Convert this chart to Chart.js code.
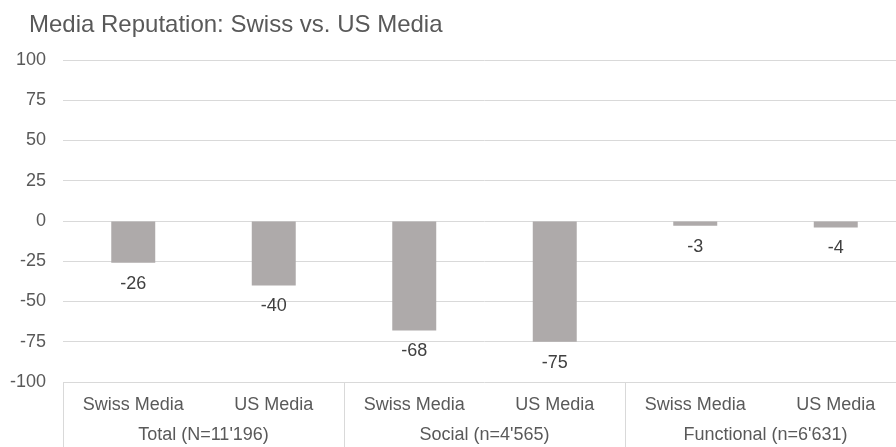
<!DOCTYPE html>
<html>
<head>
<meta charset="utf-8">
<script src="https://cdn.jsdelivr.net/npm/chart.js@4/dist/chart.umd.min.js"></script>
<style>
    html, body { margin: 0; padding: 0; overflow: hidden; background: #fff; }
    #wrap { width: 906px; height: 447px; position: relative; }
</style>
</head>
<body>
<div id="wrap"><canvas id="reputationChart"></canvas></div>
<script>
    const chartTitle = 'Media Reputation: Swiss vs. US Media';
    const categories = ['Swiss Media', 'US Media', 'Swiss Media', 'US Media', 'Swiss Media', 'US Media'];
    const groups = ["Total (N=11'196)", "Social (n=4'565)", "Functional (n=6'631)"];
    const reputation = [-26, -40, -68, -75, -3, -4];
    const yMin = -100;
    const yMax = 100;
    const yStep = 25;

    const FONT = '"Liberation Sans", Arial, sans-serif';
    const TEXT = '#595959';
    const GRID = '#D9D9D9';

    // Title, value labels and the grouped category row
    const extras = {
        id: 'extras',
        afterDraw(chart) {
            const ctx = chart.ctx;
            const x = chart.scales.x;
            const area = chart.chartArea;

            ctx.save();
            ctx.font = '24px ' + FONT;
            ctx.fillStyle = TEXT;
            ctx.textAlign = 'left';
            ctx.textBaseline = 'alphabetic';
            ctx.fillText(chartTitle, 29, 32);

            // value labels under each bar
            ctx.font = '18px ' + FONT;
            ctx.fillStyle = '#404040';
            ctx.textAlign = 'center';
            ctx.textBaseline = 'middle';
            const meta = chart.getDatasetMeta(0);
            meta.data.forEach((bar, i) => {
                ctx.fillText(String(reputation[i]), bar.x, bar.y + 21);
            });

            // group separators + group labels
            const step = x.getPixelForValue(1) - x.getPixelForValue(0);
            ctx.strokeStyle = GRID;
            ctx.lineWidth = 1;
            ctx.fillStyle = TEXT;
            groups.forEach((g, gi) => {
                const left = x.getPixelForValue(gi * 2) - step / 2;
                const right = x.getPixelForValue(gi * 2 + 1) + step / 2;
                [left, right].forEach(px => {
                    const sx = Math.round(px) + 0.5;
                    ctx.beginPath();
                    ctx.moveTo(sx, area.bottom);
                    ctx.lineTo(sx, chart.height);
                    ctx.stroke();
                });
                ctx.fillText(g, (left + right) / 2, 435);
            });
            ctx.restore();
        }
    };

    new Chart(document.getElementById('reputationChart'), {
        type: 'bar',
        data: {
            labels: categories,
            datasets: [{
                data: reputation,
                backgroundColor: '#AEAAAA',
                borderWidth: 0,
                barPercentage: 0.313,
                categoryPercentage: 1
            }]
        },
        options: {
            responsive: true,
            maintainAspectRatio: false,
            animation: false,
            layout: { padding: { top: 60, left: 0, right: 0, bottom: 0 } },
            scales: {
                y: {
                    min: yMin,
                    max: yMax,
                    afterFit(scale) { scale.width = 63; },
                    ticks: {
                        stepSize: yStep,
                        padding: 17,
                        color: TEXT,
                        font: { family: FONT, size: 18 }
                    },
                    grid: { color: GRID, lineWidth: 1, drawTicks: false },
                    border: { display: false }
                },
                x: {
                    afterFit(scale) { scale.height = 65; },
                    ticks: {
                        padding: 12,
                        color: TEXT,
                        maxRotation: 0,
                        autoSkip: false,
                        font: { family: FONT, size: 18 }
                    },
                    grid: { display: false, drawTicks: false },
                    border: { display: false }
                }
            },
            plugins: {
                legend: { display: false },
                tooltip: { enabled: false }
            }
        },
        plugins: [extras]
    });
</script>
</body>
</html>
